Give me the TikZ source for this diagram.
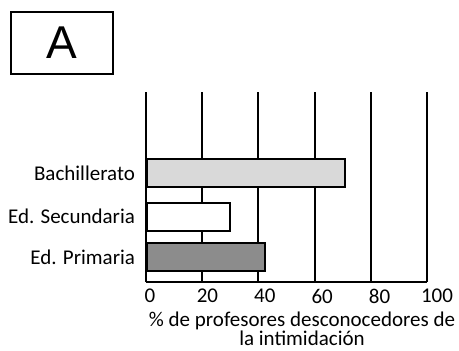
\documentclass[tikz,border=0pt]{standalone}
\usepackage{fontspec}
\setmainfont{Carlito}
\newfontfamily\headfont{Liberation Sans}
\usetikzlibrary{positioning}
\definecolor{barlight}{gray}{0.85}
\definecolor{bardark}{gray}{0.55}

\begin{document}
\begin{tikzpicture}[x=1pt,y=-1pt,line width=2pt,
    lbl/.style={font=\fontsize{21}{19}\selectfont,inner sep=0pt},
    bar/.style={draw,line width=2pt,anchor=west,inner sep=0pt,minimum height=28pt}]
  \useasboundingbox (0,0) rectangle (459,351);
  \node[draw,minimum width=102pt,minimum height=62pt,inner sep=0pt,
    font=\headfont\fontsize{46}{46}\selectfont] (panel) at (61.5,42.5) {A};
  \begin{scope}[shift={(146,282)}]
    \def\unit{2.81}
    \foreach \v in {0,20,...,100} {
      \draw (\v*\unit,0) -- (\v*\unit,-190);
      \node[lbl] (tick\v) at (\v*\unit+4+\v*0.06,14) {\v};
    }
    \draw (0,0) coordinate (origin) -- (100*\unit,0) coordinate (axisend);
    \foreach \name/\val/\yy/\col/\txt in {bach/70.5/-109/barlight/Bachillerato,
        secu/29.5/-65.5/white/Ed. Secundaria,
        prim/42/-25/bardark/Ed. Primaria} {
      \node[bar,fill=\col,minimum width=\val*\unit] (\name) at (0,\yy) {};
      \node[lbl,left=10pt of \name] (\name label) {\txt};
    }
    \node[lbl,align=center] (title) at (156,47) {\% de profesores desconocedores de\\la intimidación};
  \end{scope}
\end{tikzpicture}
\end{document}
